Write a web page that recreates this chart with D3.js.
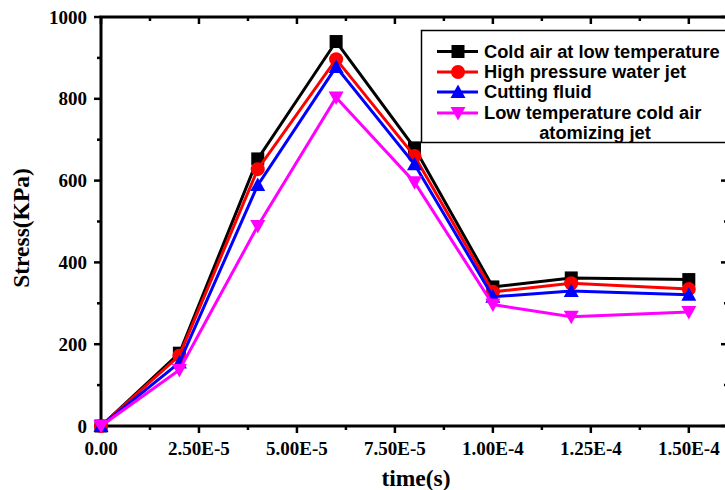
<!DOCTYPE html>
<html>
<head>
<meta charset="utf-8">
<script src="https://cdn.jsdelivr.net/npm/d3@7"></script>
<style>
  html, body { margin: 0; padding: 0; background: #fff; }
  svg { display: block; }
</style>
</head>
<body>
<div id="chart"></div>
<script>
// time points (s) and stress (KPa) for each cooling method
const times = [0, 2e-5, 4e-5, 6e-5, 8e-5, 1e-4, 1.2e-4, 1.5e-4];
const coldAir = [0, 178, 653, 940, 680, 340, 362, 358];
const waterJet = [0, 172, 628, 897, 660, 328, 349, 335];
const cuttingFluid = [0, 155, 589, 878, 640, 316, 330, 321];
const atomizingJet = [0, 137, 489, 803, 596, 297, 267, 279];

const xTicks = [0, 2.5e-5, 5e-5, 7.5e-5, 1e-4, 1.25e-4, 1.5e-4];
const xTickLabels = ['0.00', '2.50E-5', '5.00E-5', '7.50E-5', '1.00E-4', '1.25E-4', '1.50E-4'];
const yTicks = [0, 200, 400, 600, 800, 1000];

const series = [
  { name: 'Cold air at low temperature', values: coldAir, color: '#000000', symbol: 'square' },
  { name: 'High pressure water jet', values: waterJet, color: '#ff0000', symbol: 'circle' },
  { name: 'Cutting fluid', values: cuttingFluid, color: '#0000ff', symbol: 'up' },
  { name: 'Low temperature cold air', name2: 'atomizing jet', values: atomizingJet, color: '#ff00ff', symbol: 'down' },
];

const width = 725, height = 490;
const plotL = 101, plotR = 728, plotT = 17, plotB = 426;

const svg = d3.select('#chart').append('svg')
  .attr('width', width).attr('height', height);

const x = d3.scaleLinear().domain([0, 1.6e-4]).range([plotL, plotR]);
const y = d3.scaleLinear().domain([0, 1000]).range([plotB, plotT]);

const serif = '"Liberation Serif", "Times New Roman", serif';
const sans = '"Liberation Sans", Arial, sans-serif';

// minor ticks
const xMinor = d3.range(0, 1.6e-4 + 1e-12, 1.25e-5);
const yMinor = d3.range(0, 1001, 100);

const axes = svg.append('g');

// bottom ticks (outward)
axes.selectAll('.xb').data(xMinor).join('line')
  .attr('x1', d => x(d)).attr('x2', d => x(d))
  .attr('y1', plotB).attr('y2', (d, i) => plotB + (i % 2 ? 4 : 7))
  .attr('stroke', '#000').attr('stroke-width', 2.5);
// top ticks (inward)
axes.selectAll('.xt').data(xMinor).join('line')
  .attr('x1', d => x(d)).attr('x2', d => x(d))
  .attr('y1', plotT).attr('y2', (d, i) => plotT + (i % 2 ? 4 : 7))
  .attr('stroke', '#000').attr('stroke-width', 2.5);
// left ticks (outward)
axes.selectAll('.yl').data(yMinor).join('line')
  .attr('y1', d => y(d)).attr('y2', d => y(d))
  .attr('x1', plotL).attr('x2', (d, i) => plotL - (i % 2 ? 4 : 7))
  .attr('stroke', '#000').attr('stroke-width', 2.5);
// right ticks (inward)
axes.selectAll('.yr').data(yMinor).join('line')
  .attr('y1', d => y(d)).attr('y2', d => y(d))
  .attr('x1', plotR).attr('x2', (d, i) => plotR - (i % 2 ? 4 : 7))
  .attr('stroke', '#000').attr('stroke-width', 2.5);

// frame
axes.append('rect')
  .attr('x', plotL).attr('y', plotT)
  .attr('width', plotR - plotL).attr('height', plotB - plotT)
  .attr('fill', 'none').attr('stroke', '#000').attr('stroke-width', 3);

// tick labels
axes.selectAll('.xl').data(xTicks).join('text')
  .attr('x', d => x(d)).attr('y', plotB + 29)
  .attr('text-anchor', 'middle')
  .attr('font-family', serif).attr('font-weight', 'bold').attr('font-size', 19)
  .text((d, i) => xTickLabels[i]);
axes.selectAll('.ylab').data(yTicks).join('text')
  .attr('x', plotL - 14).attr('y', d => y(d) + 6.5)
  .attr('text-anchor', 'end')
  .attr('font-family', serif).attr('font-weight', 'bold').attr('font-size', 19)
  .text(d => d);

// axis titles
svg.append('text')
  .attr('x', 416).attr('y', 486)
  .attr('text-anchor', 'middle')
  .attr('font-family', serif).attr('font-weight', 'bold').attr('font-size', 23.5)
  .text('time(s)');
svg.append('text')
  .attr('transform', 'translate(29, 228) rotate(-90)')
  .attr('text-anchor', 'middle')
  .attr('font-family', serif).attr('font-weight', 'bold').attr('font-size', 23.5)
  .text('Stress(KPa)');

function drawMarker(g, symbol, color) {
  if (symbol === 'square') {
    g.append('rect').attr('x', -6.5).attr('y', -6.5).attr('width', 13).attr('height', 13).attr('fill', color);
  } else if (symbol === 'circle') {
    g.append('circle').attr('r', 7).attr('fill', color);
  } else if (symbol === 'up') {
    g.append('path').attr('d', 'M0,-7.5L7.5,6L-7.5,6Z').attr('fill', color);
  } else {
    g.append('path').attr('d', 'M0,7.5L7.5,-6L-7.5,-6Z').attr('fill', color);
  }
}

const line = d3.line().x(d => x(d[0])).y(d => y(d[1]));
const plot = svg.append('g');

series.forEach(s => {
  const pts = times.map((t, i) => [t, s.values[i]]);
  plot.append('path')
    .attr('d', line(pts))
    .attr('fill', 'none').attr('stroke', s.color).attr('stroke-width', 3);
  pts.forEach(p => {
    const g = plot.append('g').attr('transform', `translate(${x(p[0])},${y(p[1])})`);
    drawMarker(g, s.symbol, s.color);
  });
});

// legend
const legend = svg.append('g');
legend.append('rect')
  .attr('x', 421.5).attr('y', 30.5).attr('width', 320).attr('height', 112)
  .attr('fill', '#fff').attr('stroke', '#000').attr('stroke-width', 1.5);

const rowY = [51.5, 72, 92, 113];
series.forEach((s, i) => {
  const ly = rowY[i];
  legend.append('line')
    .attr('x1', 437).attr('x2', 478).attr('y1', ly).attr('y2', ly)
    .attr('stroke', s.color).attr('stroke-width', 3);
  drawMarker(legend.append('g').attr('transform', `translate(458,${ly})`), s.symbol, s.color);
  legend.append('text')
    .attr('x', 484).attr('y', ly + 6)
    .attr('font-family', sans).attr('font-weight', 'bold').attr('font-size', 18.3)
    .text(s.name);
  if (s.name2) {
    legend.append('text')
      .attr('x', 595).attr('y', ly + 26)
      .attr('text-anchor', 'middle')
      .attr('font-family', sans).attr('font-weight', 'bold').attr('font-size', 18.3)
      .text(s.name2);
  }
});
</script>
</body>
</html>
